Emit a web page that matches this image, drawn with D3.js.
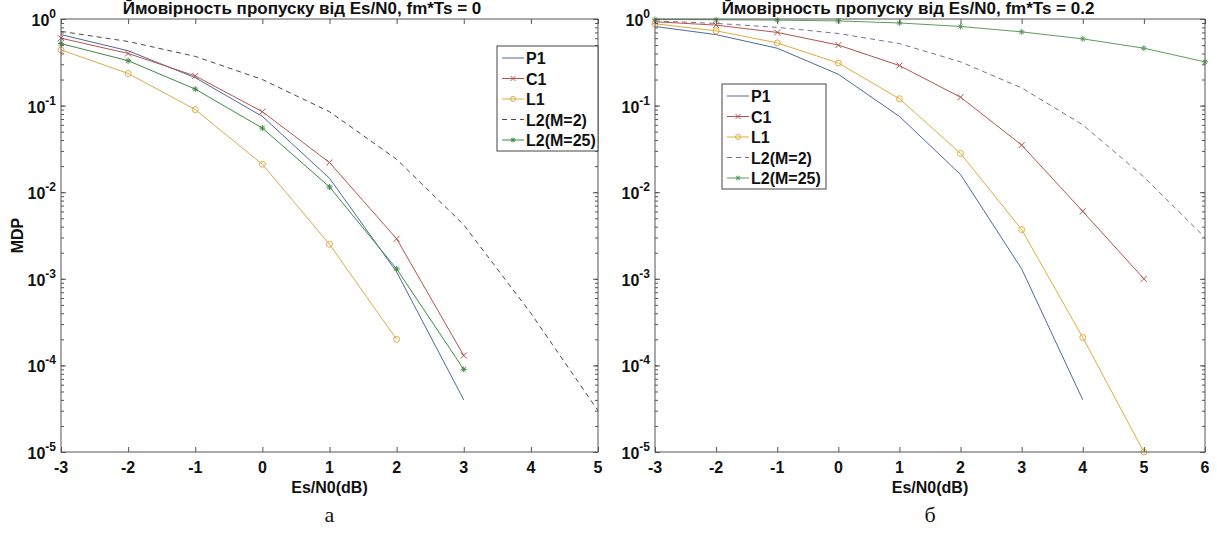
<!DOCTYPE html>
<html><head><meta charset="utf-8">
<script src="https://cdn.jsdelivr.net/npm/d3@7"></script>
<style>body{margin:0;background:#fff} svg{display:block}</style></head>
<body>
<svg id="c" width="1217" height="539"></svg>
<script>
// ---- data ----
const seriesNames = ["P1", "C1", "L1", "L2(M=2)", "L2(M=25)"];
const xTicksA = [-3, -2, -1, 0, 1, 2, 3, 4, 5];
const xTicksB = [-3, -2, -1, 0, 1, 2, 3, 4, 5, 6];
const yTickExps = [0, -1, -2, -3, -4, -5];
const esA = [-3, -2, -1, 0, 1, 2, 3, 4, 5];
const p1A = [0.66, 0.43, 0.21, 0.075, 0.0145, 0.0012, 0.00004];
const c1A = [0.60, 0.40, 0.22, 0.085, 0.022, 0.0029, 0.00013];
const l1A = [0.44, 0.235, 0.09, 0.021, 0.0025, 0.0002];
const l2m2A = [0.72, 0.55, 0.37, 0.20, 0.085, 0.024, 0.0042, 0.0004, 0.00003];
const l2m25A = [0.52, 0.33, 0.155, 0.055, 0.0115, 0.0013, 0.00009];
const esB = [-3, -2, -1, 0, 1, 2, 3, 4, 5, 6];
const p1B = [0.82, 0.66, 0.46, 0.23, 0.075, 0.016, 0.0013, 0.00004];
const c1B = [0.93, 0.85, 0.70, 0.50, 0.29, 0.125, 0.035, 0.006, 0.001];
const l1B = [0.88, 0.73, 0.53, 0.31, 0.12, 0.028, 0.0037, 0.00021, 0.00001];
const l2m2B = [0.95, 0.89, 0.80, 0.68, 0.52, 0.32, 0.16, 0.06, 0.015, 0.003];
const l2m25B = [0.99, 0.98, 0.97, 0.95, 0.90, 0.82, 0.71, 0.59, 0.46, 0.32];
const titleA = "Ймовірность пропуску від Es/N0, fm*Ts = 0";
const titleB = "Ймовірность пропуску від Es/N0, fm*Ts = 0.2";
const xLabel = "Es/N0(dB)";
const yLabel = "MDP";
const captionA = "а";
const captionB = "б";

// ---- styles ----
const stylesA = [
  {color: "#4d6a9c", marker: "none", dash: null},
  {color: "#b4544c", marker: "x", dash: null},
  {color: "#d9ab4a", marker: "o", dash: null},
  {color: "#4a4a4a", marker: "none", dash: "5,4"},
  {color: "#3f8a45", marker: "*", dash: null}
];
const stylesB = [
  {color: "#4d6a9c", marker: "none", dash: null},
  {color: "#b4544c", marker: "x", dash: null},
  {color: "#e0ad3c", marker: "o", dash: null},
  {color: "#7a6e92", marker: "none", dash: "5,4"},
  {color: "#5e9c5e", marker: "*", dash: null}
];

const svg = d3.select("#c");
const FONT = "Liberation Sans, Arial, sans-serif";

function drawMarker(g, type, x, y, color, s) {
  s = s || 3;
  if (type === "x") {
    g.append("path").attr("d", `M${x-s},${y-s}L${x+s},${y+s}M${x-s},${y+s}L${x+s},${y-s}`)
      .attr("stroke", color).attr("stroke-width", 1).attr("fill", "none");
  } else if (type === "o") {
    g.append("circle").attr("cx", x).attr("cy", y).attr("r", s)
      .attr("stroke", color).attr("stroke-width", 1).attr("fill", "none");
  } else if (type === "*") {
    g.append("path").attr("d", `M${x-s},${y}L${x+s},${y}M${x},${y-s}L${x},${y+s}M${x-s*0.7},${y-s*0.7}L${x+s*0.7},${y+s*0.7}M${x-s*0.7},${y+s*0.7}L${x+s*0.7},${y-s*0.7}`)
      .attr("stroke", color).attr("stroke-width", 1).attr("fill", "none");
  }
}

function panel(opt) {
  const {x0, x1, y0, y1, xdom, xticks, es, series, styles, title, titleX, caption, showYLabel, legend} = opt;
  const x = d3.scaleLinear().domain(xdom).range([x0, x1]);
  const y = d3.scaleLog().domain([1e-5, 1]).range([y1, y0]);
  const g = svg.append("g");

  series.forEach((vals, i) => {
    const st = styles[i];
    const pts = vals.map((v, j) => [es[j], v]);
    g.append("path").datum(pts)
      .attr("d", d3.line().x(d => x(d[0])).y(d => y(d[1])))
      .attr("fill", "none").attr("stroke", st.color).attr("stroke-width", 1)
      .attr("stroke-dasharray", st.dash);
    pts.forEach(p => drawMarker(g, st.marker, x(p[0]), y(p[1]), st.color, 3));
  });

  const axCol = "#555";
  const bottom = g.append("g").attr("transform", `translate(0,${y1})`)
    .call(d3.axisBottom(x).tickValues(xticks).tickSize(-5).tickFormat(""));
  const top = g.append("g").attr("transform", `translate(0,${y0})`)
    .call(d3.axisTop(x).tickValues(xticks).tickSize(-5).tickFormat(""));
  const minor = [];
  for (let e = -5; e < 0; e++) for (let m = 1; m < 10; m++) minor.push(m * Math.pow(10, e));
  minor.push(1);
  const left = g.append("g").attr("transform", `translate(${x0},0)`)
    .call(d3.axisLeft(y).tickValues(minor).tickSize(-3).tickFormat(""));
  const right = g.append("g").attr("transform", `translate(${x1},0)`)
    .call(d3.axisRight(y).tickValues(minor).tickSize(-3).tickFormat(""));
  const leftMaj = g.append("g").attr("transform", `translate(${x0},0)`)
    .call(d3.axisLeft(y).tickValues(yTickExps.map(e => Math.pow(10, e))).tickSize(-5).tickFormat(""));
  const rightMaj = g.append("g").attr("transform", `translate(${x1},0)`)
    .call(d3.axisRight(y).tickValues(yTickExps.map(e => Math.pow(10, e))).tickSize(-5).tickFormat(""));
  [bottom, top, left, right, leftMaj, rightMaj].forEach(a => {
    a.selectAll("path.domain").remove();
    a.selectAll("line").attr("stroke", axCol);
  });
  g.append("rect").attr("x", x0).attr("y", y0).attr("width", x1 - x0).attr("height", y1 - y0)
    .attr("fill", "none").attr("stroke", axCol).attr("stroke-width", 1);

  xticks.forEach(t => {
    g.append("text").attr("x", x(t)).attr("y", y1 + 21).attr("text-anchor", "middle")
      .attr("font-family", FONT).attr("font-weight", "bold").attr("font-size", 16).attr("fill", "#111")
      .text(t < 0 ? "-" + Math.abs(t) : t);
  });
  yTickExps.forEach(e => {
    const t = g.append("text").attr("x", x0 - 5).attr("y", y(Math.pow(10, e)) + 7)
      .attr("text-anchor", "end").attr("font-family", FONT).attr("font-weight", "bold")
      .attr("font-size", 16).attr("fill", "#111");
    t.append("tspan").text("10");
    t.append("tspan").attr("dy", -8).attr("font-size", 12).text(e);
  });

  g.append("text").attr("x", titleX).attr("y", y0 - 5).attr("text-anchor", "middle")
    .attr("font-family", FONT).attr("font-weight", "bold").attr("font-size", 17).attr("fill", "#111")
    .text(title);
  g.append("text").attr("x", (x0 + x1) / 2).attr("y", y1 + 41).attr("text-anchor", "middle")
    .attr("font-family", FONT).attr("font-weight", "bold").attr("font-size", 16).attr("fill", "#111")
    .text(xLabel);
  g.append("text").attr("x", (x0 + x1) / 2).attr("y", y1 + 70).attr("text-anchor", "middle")
    .attr("font-family", "Liberation Serif, Times New Roman, serif").attr("font-size", 22).attr("fill", "#111")
    .text(caption);
  if (showYLabel) {
    g.append("text").attr("transform", `translate(${x0 - 38},${(y0 + y1) / 2}) rotate(-90)`)
      .attr("text-anchor", "middle").attr("font-family", FONT).attr("font-weight", "bold")
      .attr("font-size", 16).attr("fill", "#111").text(yLabel);
  }

  const lg = g.append("g");
  lg.append("rect").attr("x", legend.x).attr("y", legend.y).attr("width", legend.w).attr("height", legend.h)
    .attr("fill", "#fff").attr("stroke", "#444").attr("stroke-width", 1);
  seriesNames.forEach((n, i) => {
    const st = styles[i];
    const cy = legend.y + 12 + i * 20.5;
    lg.append("line").attr("x1", legend.x + 5).attr("x2", legend.x + 27).attr("y1", cy).attr("y2", cy)
      .attr("stroke", st.color).attr("stroke-width", 1).attr("stroke-dasharray", st.dash);
    drawMarker(lg, st.marker, legend.x + 16, cy, st.color, 2.5);
    lg.append("text").attr("x", legend.x + 29).attr("y", cy + 6).attr("font-family", FONT)
      .attr("font-weight", "bold").attr("font-size", 16).attr("fill", "#111").text(n);
  });
}

panel({x0: 61, x1: 598, y0: 19, y1: 452, xdom: [-3, 5], xticks: xTicksA, es: esA,
  series: [p1A, c1A, l1A, l2m2A, l2m25A], styles: stylesA, title: titleA, titleX: 302, caption: captionA,
  showYLabel: true, legend: {x: 497, y: 46, w: 101, h: 105}});
panel({x0: 655, x1: 1205, y0: 19, y1: 452, xdom: [-3, 6], xticks: xTicksB, es: esB,
  series: [p1B, c1B, l1B, l2m2B, l2m25B], styles: stylesB, title: titleB, titleX: 908, caption: captionB,
  showYLabel: false, legend: {x: 722, y: 84, w: 104, h: 105}});
</script>
</body></html>
